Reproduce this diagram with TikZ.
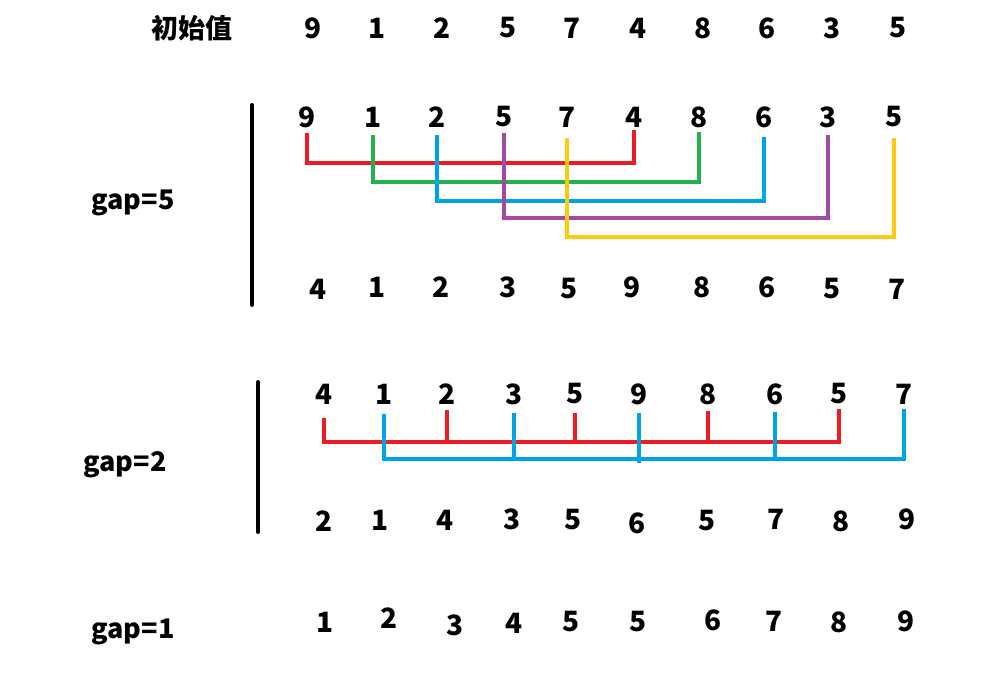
\documentclass[tikz,border=0pt]{standalone}
\usepackage{fontspec}
\setmainfont{Noto Sans CJK SC}
\begin{document}
\begin{tikzpicture}[x=1pt,y=-1pt,
  num/.style={font=\fontsize{28}{30}\selectfont\bfseries, inner sep=0pt},
  lab/.style={font=\fontsize{27}{30}\selectfont\bfseries, inner sep=0pt},
  bar/.style={line width=4pt, black, line cap=round},
  conn/.style={line width=3.5pt},
  cr/.style={conn, draw={rgb,255:red,237;green,28;blue,36}},
  cg/.style={conn, draw={rgb,255:red,34;green,177;blue,76}},
  cb/.style={conn, draw={rgb,255:red,0;green,162;blue,232}},
  cp/.style={conn, draw={rgb,255:red,163;green,73;blue,164}},
  cy/.style={conn, draw={rgb,255:red,255;green,201;blue,14}}]
\useasboundingbox (0,0) rectangle (990,679);
% row 0
\node[lab] (l0) at (192,28) {初始值};
\foreach \v/\x [count=\i] in {9/313,1/377,2/442,5/508,7/572,4/638,8/703,6/767,3/832,5/898}
  \node[num] (r\i) at (\x,28) {\v};
% gap=5
\node[lab] (l5) at (133,203) {gap=5};
\coordinate (b5t) at (252,105); \coordinate (b5b) at (252,305);
\draw[bar] (b5t) -- (b5b);
\foreach \v/\x [count=\i] in {9/307,1/373,2/437,5/504,7/567,4/634,8/699,6/764,3/828,5/894}
  \node[num] (a\i) at (\x,117) {\v};
\foreach \v/\x/\y [count=\i] in {4/318/289,1/377/287,2/441/287,3/508/287,5/569/289,9/632/287,8/702/287,6/767/287,5/832/289,7/897/289}
  \node[num] (c\i) at (\x,\y) {\v};
\draw[cr] (a1 |- 0,133) -- (a1 |- 0,163) -- (a6 |- 0,163) -- (a6 |- 0,130);
\draw[cg] (a2 |- 0,135) -- (a2 |- 0,182) -- (a7 |- 0,182) -- (a7 |- 0,132);
\draw[cb] (a3 |- 0,135) -- (a3 |- 0,201) -- (a8 |- 0,201) -- (a8 |- 0,137);
\draw[cp] (a4 |- 0,133) -- (a4 |- 0,175) -- (a4 |- 0,218) -- (a9 |- 0,218) -- (a9 |- 0,135);
\draw[cy] (a5 |- 0,138) -- (a5 |- 0,237) -- (a10 |- 0,237) -- (a10 |- 0,138);
% gap=2
\node[lab] (l2) at (125,465) {gap=2};
\coordinate (b2t) at (258,382); \coordinate (b2b) at (258,532);
\draw[bar] (b2t) -- (b2b);
\foreach \v/\x [count=\i] in {4/324,1/384,2/447,3/514,5/575,9/639,8/708,6/775,5/839,7/904}
  \node[num] (d\i) at (\x,394) {\v};
\foreach \v/\x/\y [count=\i] in {2/324/521,1/380/520,4/445/520,3/512/519,5/573/520,6/637/523,5/707/521,7/776/519,8/841/521,9/907/519}
  \node[num] (e\i) at (\x,\y) {\v};
\draw[cr] (d1 |- 0,418) -- (d1 |- 0,442) -- (d9 |- 0,442) -- (d9 |- 0,409);
\foreach \k/\t in {3/410,5/413,7/411}
  \draw[cr] (d\k |- 0,\t) -- (d\k |- 0,442);
\draw[cb] (d2 |- 0,414) -- (d2 |- 0,459) -- (d10 |- 0,459) -- (d10 |- 0,409);
\foreach \k/\t/\b in {4/413/459,6/413/463,8/412/459}
  \draw[cb] (d\k |- 0,\t) -- (d\k |- 0,\b);
% gap=1
\node[lab] (l1) at (133,632) {gap=1};
\foreach \v/\x/\y [count=\i] in {1/325/622,2/389/618,3/455/625,4/514/623,5/571/622,5/638/622,6/713/620,7/774/621,8/839/622,9/906/621}
  \node[num] (f\i) at (\x,\y) {\v};
\end{tikzpicture}
\end{document}
